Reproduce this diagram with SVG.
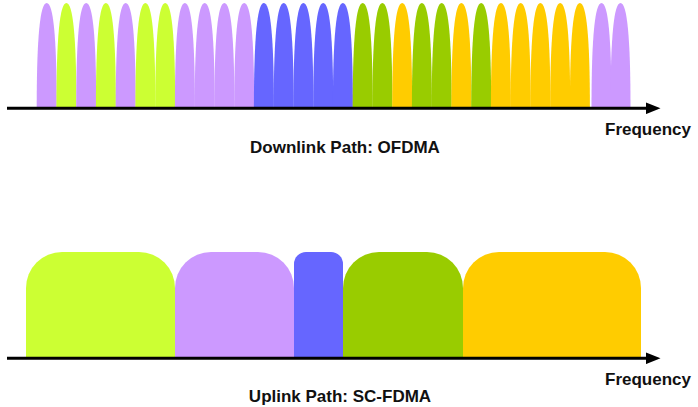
<svg xmlns="http://www.w3.org/2000/svg" xmlns:xlink="http://www.w3.org/1999/xlink" width="698" height="407" viewBox="0 0 698 407">
<style>
.li{fill:#CC99FF}.lm{fill:#CCFF33}.bl{fill:#6666FF}.gr{fill:#99CC00}.ye{fill:#FFCC00}
.axis{stroke:#000;stroke-width:3;fill:none}
.lbl{font-family:"Liberation Sans",Arial,sans-serif;font-weight:bold;font-size:17px;fill:#111}
</style>
<defs>
<path id="lobe" d="M-10,108 C-10,36 -6.5,3 0,3 C6.5,3 10,36 10,108 Z"/>
<marker id="ah" markerWidth="5" markerHeight="4" refX="0.5" refY="2" orient="auto" markerUnits="strokeWidth"><path d="M0,0 L5,2 L0,4 Z" fill="#000"/></marker>
</defs>
<rect width="698" height="407" fill="#fff"/>
<g id="downlink-subcarriers">
<g id="sc0"><use xlink:href="#lobe" class="li" x="46.7"/></g>
<g id="sc1"><use xlink:href="#lobe" class="lm" x="66.4"/></g>
<g id="sc2"><use xlink:href="#lobe" class="li" x="86.2"/></g>
<g id="sc3"><use xlink:href="#lobe" class="lm" x="105.9"/></g>
<g id="sc4"><use xlink:href="#lobe" class="li" x="125.7"/></g>
<g id="sc5"><use xlink:href="#lobe" class="lm" x="145.4"/></g>
<g id="sc6"><use xlink:href="#lobe" class="lm" x="165.2"/></g>
<g id="sc7"><use xlink:href="#lobe" class="li" x="184.9"/></g>
<g id="sc8"><use xlink:href="#lobe" class="li" x="204.7"/></g>
<g id="sc9"><use xlink:href="#lobe" class="li" x="224.4"/></g>
<g id="sc10"><use xlink:href="#lobe" class="li" x="244.2"/></g>
<g id="sc11"><use xlink:href="#lobe" class="bl" x="263.9"/></g>
<g id="sc12"><use xlink:href="#lobe" class="bl" x="283.7"/></g>
<g id="sc13"><use xlink:href="#lobe" class="bl" x="303.4"/></g>
<g id="sc14"><use xlink:href="#lobe" class="bl" x="323.2"/></g>
<g id="sc15"><use xlink:href="#lobe" class="bl" x="342.9"/></g>
<g id="sc16"><use xlink:href="#lobe" class="gr" x="362.7"/></g>
<g id="sc17"><use xlink:href="#lobe" class="gr" x="382.4"/></g>
<g id="sc18"><use xlink:href="#lobe" class="ye" x="402.2"/></g>
<g id="sc19"><use xlink:href="#lobe" class="gr" x="421.9"/></g>
<g id="sc20"><use xlink:href="#lobe" class="gr" x="441.7"/></g>
<g id="sc21"><use xlink:href="#lobe" class="ye" x="461.4"/></g>
<g id="sc22"><use xlink:href="#lobe" class="gr" x="481.2"/></g>
<g id="sc23"><use xlink:href="#lobe" class="ye" x="500.9"/></g>
<g id="sc24"><use xlink:href="#lobe" class="ye" x="520.7"/></g>
<g id="sc25"><use xlink:href="#lobe" class="ye" x="540.4"/></g>
<g id="sc26"><use xlink:href="#lobe" class="ye" x="560.2"/></g>
<g id="sc27"><use xlink:href="#lobe" class="ye" x="579.9"/></g>
<g id="sc28"><use xlink:href="#lobe" class="li" x="601.5"/></g>
<g id="sc29"><use xlink:href="#lobe" class="li" x="620.5"/></g>
</g>
<g id="uplink-blocks">
<g id="blk-lime"><path class="lm" d="M26,358 V288 A36,36 0 0 1 62,252 H139 A36,36 0 0 1 175,288 V358 Z"/></g>
<g id="blk-lilac"><path class="li" d="M175,358 V288 A36,36 0 0 1 211,252 H258 A36,36 0 0 1 294,288 V358 Z"/></g>
<g id="blk-blue"><path class="bl" d="M294,358 V264 A12,12 0 0 1 306,252 H331 A12,12 0 0 1 343,264 V358 Z"/></g>
<g id="blk-green"><path class="gr" d="M343,358 V288 A36,36 0 0 1 379,252 H427 A36,36 0 0 1 463,288 V358 Z"/></g>
<g id="blk-yellow"><path class="ye" d="M463,358 V288 A36,36 0 0 1 499,252 H605 A36,36 0 0 1 641,288 V358 Z"/></g>
</g>
<g id="connectors">
<line class="axis" x1="7" y1="108.3" x2="647" y2="108.3" marker-end="url(#ah)"/>
<line class="axis" x1="7" y1="358.3" x2="647" y2="358.3" marker-end="url(#ah)"/>
</g>
<g id="labels">
<text class="lbl" x="605" y="135">Frequency</text>
<text class="lbl" x="345" y="153" text-anchor="middle">Downlink Path: OFDMA</text>
<text class="lbl" x="605" y="385">Frequency</text>
<text class="lbl" x="340" y="402" text-anchor="middle">Uplink Path: SC-FDMA</text>
</g>
</svg>
